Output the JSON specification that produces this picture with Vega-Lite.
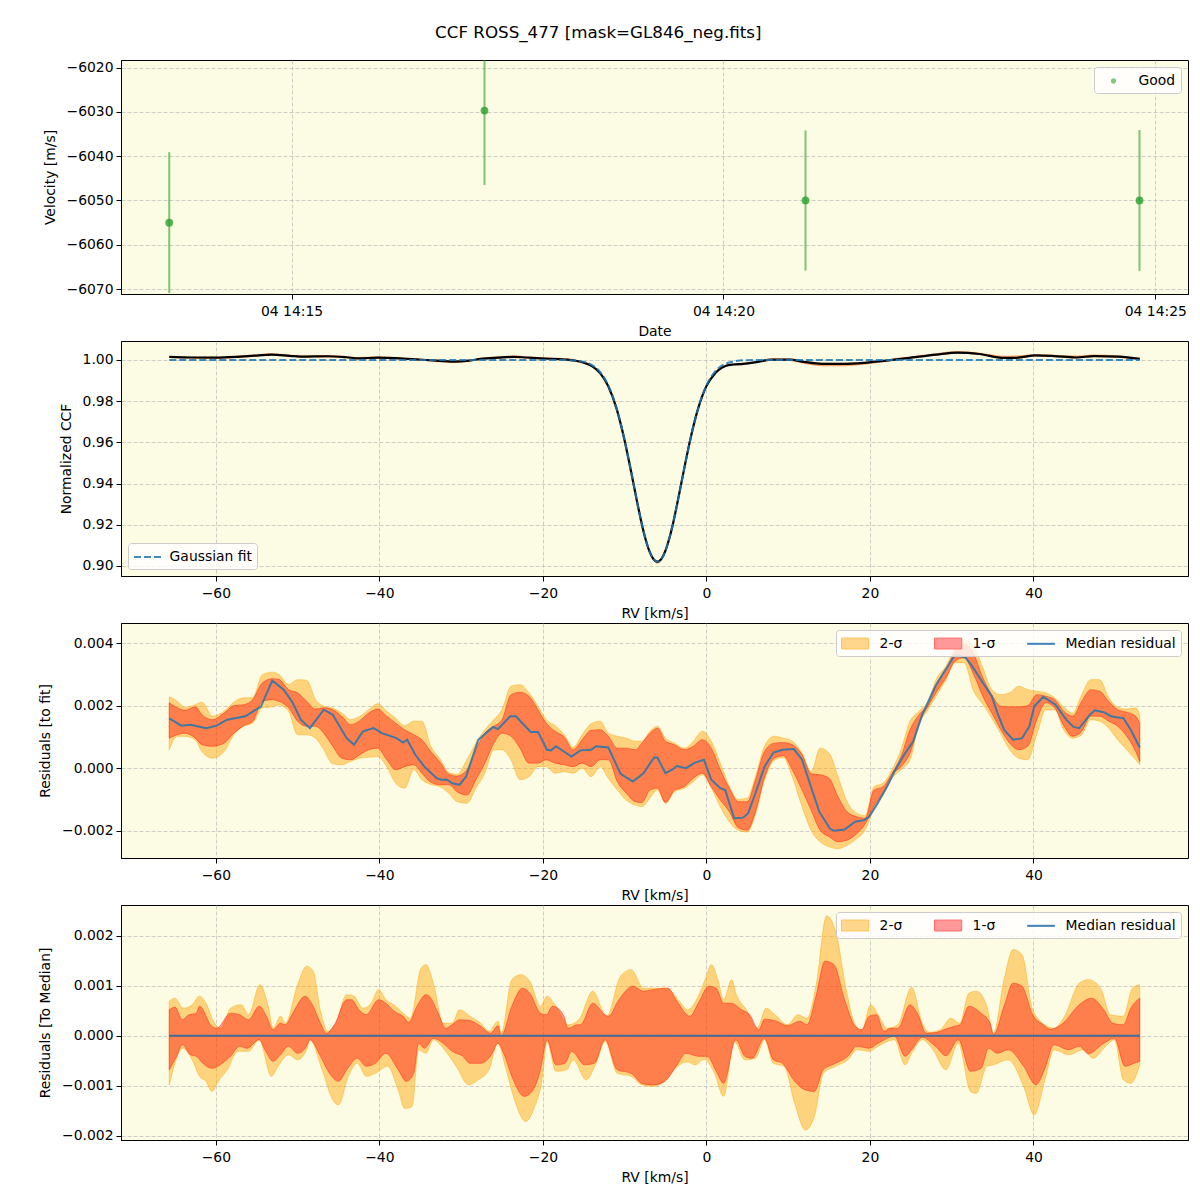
{
  "$schema": "https://vega.github.io/schema/vega-lite/v6.json",
  "padding": {"left": 38, "top": 24, "right": 5, "bottom": 5},
  "title": {"text": "CCF ROSS_477 [mask=GL846_neg.fits]", "fontSize": 16.7, "fontWeight": "normal", "font": "DejaVu Sans", "color": "#000000", "offset": 18, "dx": -15, "anchor": "middle"},
  "bounds": "flush",
  "spacing": 47,
  "resolve": {
    "scale": {"color": "independent", "fill": "independent", "stroke": "independent", "shape": "independent", "x": "independent", "y": "independent"},
    "legend": {"color": "independent", "fill": "independent", "stroke": "independent", "shape": "independent"}
  },
  "datasets": {
    "leg": [{"k": "2-σ"}, {"k": "1-σ"}, {"k": "Median residual"}],
    "rv": [
      {"t": "2021-03-04T14:13:35Z", "v": -6055.0, "lo": -6070.9, "hi": -6039.1},
      {"t": "2021-03-04T14:17:14Z", "v": -6029.7, "lo": -6046.5, "hi": -6012.9},
      {"t": "2021-03-04T14:20:57Z", "v": -6050.0, "lo": -6065.8, "hi": -6034.2},
      {"t": "2021-03-04T14:24:49Z", "v": -6050.0, "lo": -6065.9, "hi": -6034.1}
    ],
    "ccf": [
      {"x": -65.7, "ccf": 1.0015, "gauss": 1.0, "lo": 1.0010, "hi": 1.0019},
      {"x": -63.0, "ccf": 1.0012, "gauss": 1.0, "lo": 1.0007, "hi": 1.0016},
      {"x": -60.0, "ccf": 1.0011, "gauss": 1.0, "lo": 1.0006, "hi": 1.0015},
      {"x": -57.0, "ccf": 1.0016, "gauss": 1.0, "lo": 1.0011, "hi": 1.0022},
      {"x": -55.0, "ccf": 1.0021, "gauss": 1.0, "lo": 1.0016, "hi": 1.0028},
      {"x": -53.2, "ccf": 1.0026, "gauss": 1.0, "lo": 1.0020, "hi": 1.0033},
      {"x": -51.0, "ccf": 1.0020, "gauss": 1.0, "lo": 1.0015, "hi": 1.0026},
      {"x": -49.6, "ccf": 1.0016, "gauss": 1.0, "lo": 1.0011, "hi": 1.0021},
      {"x": -46.3, "ccf": 1.0018, "gauss": 1.0, "lo": 1.0012, "hi": 1.0024},
      {"x": -44.0, "ccf": 1.0013, "gauss": 1.0, "lo": 1.0008, "hi": 1.0018},
      {"x": -42.6, "ccf": 1.0008, "gauss": 1.0, "lo": 1.0002, "hi": 1.0014},
      {"x": -40.2, "ccf": 1.0011, "gauss": 1.0, "lo": 1.0006, "hi": 1.0017},
      {"x": -38.0, "ccf": 1.0009, "gauss": 1.0, "lo": 1.0004, "hi": 1.0014},
      {"x": -36.5, "ccf": 1.0005, "gauss": 1.0, "lo": 1.0000, "hi": 1.0010},
      {"x": -33.5, "ccf": 0.9998, "gauss": 1.0, "lo": 0.9992, "hi": 1.0003},
      {"x": -30.9, "ccf": 0.9992, "gauss": 1.0, "lo": 0.9985, "hi": 0.9997},
      {"x": -29.0, "ccf": 0.9997, "gauss": 1.0, "lo": 0.9991, "hi": 1.0002},
      {"x": -27.6, "ccf": 1.0005, "gauss": 1.0, "lo": 1.0000, "hi": 1.0010},
      {"x": -25.5, "ccf": 1.0011, "gauss": 1.0, "lo": 1.0006, "hi": 1.0017},
      {"x": -23.5, "ccf": 1.0015, "gauss": 1.0, "lo": 1.0010, "hi": 1.0021},
      {"x": -22.0, "ccf": 1.0012, "gauss": 1.0, "lo": 1.0007, "hi": 1.0017},
      {"x": -20.3, "ccf": 1.0008, "gauss": 1.0, "lo": 1.0003, "hi": 1.0013},
      {"x": -18.0, "ccf": 1.0004, "gauss": 1.0, "lo": 0.9999, "hi": 1.0009},
      {"x": -17.0, "ccf": 1.0002, "gauss": 0.99991, "lo": 0.9997, "hi": 1.0007},
      {"x": -16.0, "ccf": 0.9996, "gauss": 0.99969, "lo": 0.9991, "hi": 1.0001},
      {"x": -15.0, "ccf": 0.9987, "gauss": 0.99907, "lo": 0.9982, "hi": 0.9992},
      {"x": -14.0, "ccf": 0.9970, "gauss": 0.99752, "lo": 0.9965, "hi": 0.9975},
      {"x": -13.0, "ccf": 0.9936, "gauss": 0.99414, "lo": 0.9931, "hi": 0.9941},
      {"x": -12.0, "ccf": 0.9872, "gauss": 0.98762, "lo": 0.9867, "hi": 0.9877},
      {"x": -11.0, "ccf": 0.9765, "gauss": 0.97671, "lo": 0.9760, "hi": 0.9770},
      {"x": -10.0, "ccf": 0.9608, "gauss": 0.96093, "lo": 0.9603, "hi": 0.9613},
      {"x": -9.5, "ccf": 0.9514, "gauss": 0.95153, "lo": 0.9508, "hi": 0.9520},
      {"x": -9.0, "ccf": 0.9415, "gauss": 0.94157, "lo": 0.9409, "hi": 0.9421},
      {"x": -8.5, "ccf": 0.9315, "gauss": 0.93157, "lo": 0.9309, "hi": 0.9321},
      {"x": -8.0, "ccf": 0.9221, "gauss": 0.92213, "lo": 0.9215, "hi": 0.9227},
      {"x": -7.5, "ccf": 0.9138, "gauss": 0.91389, "lo": 0.9132, "hi": 0.9144},
      {"x": -7.0, "ccf": 0.9074, "gauss": 0.90747, "lo": 0.9067, "hi": 0.9080},
      {"x": -6.5, "ccf": 0.9034, "gauss": 0.90340, "lo": 0.9026, "hi": 0.9040},
      {"x": -6.0, "ccf": 0.9020, "gauss": 0.90200, "lo": 0.9011, "hi": 0.9026},
      {"x": -5.5, "ccf": 0.9034, "gauss": 0.90340, "lo": 0.9026, "hi": 0.9040},
      {"x": -5.0, "ccf": 0.9075, "gauss": 0.90747, "lo": 0.9068, "hi": 0.9081},
      {"x": -4.5, "ccf": 0.9139, "gauss": 0.91389, "lo": 0.9133, "hi": 0.9145},
      {"x": -4.0, "ccf": 0.9221, "gauss": 0.92213, "lo": 0.9215, "hi": 0.9227},
      {"x": -3.5, "ccf": 0.9316, "gauss": 0.93157, "lo": 0.9310, "hi": 0.9322},
      {"x": -3.0, "ccf": 0.9416, "gauss": 0.94157, "lo": 0.9410, "hi": 0.9422},
      {"x": -2.5, "ccf": 0.9515, "gauss": 0.95153, "lo": 0.9509, "hi": 0.9521},
      {"x": -2.0, "ccf": 0.9609, "gauss": 0.96093, "lo": 0.9604, "hi": 0.9614},
      {"x": -1.0, "ccf": 0.9766, "gauss": 0.97671, "lo": 0.9761, "hi": 0.9771},
      {"x": 0.0, "ccf": 0.9873, "gauss": 0.98762, "lo": 0.9868, "hi": 0.9878},
      {"x": 1.0, "ccf": 0.9932, "gauss": 0.99414, "lo": 0.9927, "hi": 0.9937},
      {"x": 1.5, "ccf": 0.9952, "gauss": 0.99614, "lo": 0.9947, "hi": 0.9957},
      {"x": 2.4, "ccf": 0.9972, "gauss": 0.99830, "lo": 0.9967, "hi": 0.9977},
      {"x": 3.3, "ccf": 0.9978, "gauss": 0.99932, "lo": 0.9973, "hi": 0.9983},
      {"x": 4.5, "ccf": 0.9981, "gauss": 0.99983, "lo": 0.9976, "hi": 0.9986},
      {"x": 6.3, "ccf": 0.9991, "gauss": 1.0, "lo": 0.9986, "hi": 0.9996},
      {"x": 8.0, "ccf": 1.0002, "gauss": 1.0, "lo": 0.9997, "hi": 1.0007},
      {"x": 10.2, "ccf": 1.0002, "gauss": 1.0, "lo": 0.9995, "hi": 1.0007},
      {"x": 11.9, "ccf": 0.9991, "gauss": 1.0, "lo": 0.9982, "hi": 0.9996},
      {"x": 14.1, "ccf": 0.9981, "gauss": 1.0, "lo": 0.9970, "hi": 0.9986},
      {"x": 16.7, "ccf": 0.9981, "gauss": 1.0, "lo": 0.9970, "hi": 0.9986},
      {"x": 19.3, "ccf": 0.9986, "gauss": 1.0, "lo": 0.9977, "hi": 0.9991},
      {"x": 22.0, "ccf": 0.9997, "gauss": 1.0, "lo": 0.9991, "hi": 1.0002},
      {"x": 24.6, "ccf": 1.0009, "gauss": 1.0, "lo": 1.0004, "hi": 1.0015},
      {"x": 28.1, "ccf": 1.0026, "gauss": 1.0, "lo": 1.0021, "hi": 1.0032},
      {"x": 30.7, "ccf": 1.0036, "gauss": 1.0, "lo": 1.0030, "hi": 1.0043},
      {"x": 33.4, "ccf": 1.0029, "gauss": 1.0, "lo": 1.0024, "hi": 1.0035},
      {"x": 36.4, "ccf": 1.0010, "gauss": 1.0, "lo": 1.0005, "hi": 1.0020},
      {"x": 37.7, "ccf": 1.0010, "gauss": 1.0, "lo": 1.0005, "hi": 1.0021},
      {"x": 40.3, "ccf": 1.0022, "gauss": 1.0, "lo": 1.0017, "hi": 1.0028},
      {"x": 42.5, "ccf": 1.0019, "gauss": 1.0, "lo": 1.0014, "hi": 1.0025},
      {"x": 45.2, "ccf": 1.0012, "gauss": 1.0, "lo": 1.0007, "hi": 1.0021},
      {"x": 47.4, "ccf": 1.0019, "gauss": 1.0, "lo": 1.0014, "hi": 1.0027},
      {"x": 50.4, "ccf": 1.0016, "gauss": 1.0, "lo": 1.0011, "hi": 1.0022},
      {"x": 53.0, "ccf": 1.0005, "gauss": 1.0, "lo": 1.0000, "hi": 1.0011}
    ],
    "p3band": [
      {"x": -65.7, "lo2": 0.00059, "lo1": 0.00096, "hi1": 0.00209, "hi2": 0.00228},
      {"x": -64.7, "lo2": 0.00102, "lo1": 0.00107, "hi1": 0.00193, "hi2": 0.00214},
      {"x": -63.8, "lo2": 0.00102, "lo1": 0.00112, "hi1": 0.00185, "hi2": 0.00195},
      {"x": -62.5, "lo2": 0.00090, "lo1": 0.00096, "hi1": 0.00196, "hi2": 0.00203},
      {"x": -61.7, "lo2": 0.00053, "lo1": 0.00075, "hi1": 0.00171, "hi2": 0.00211},
      {"x": -60.4, "lo2": 0.00032, "lo1": 0.00070, "hi1": 0.00155, "hi2": 0.00166},
      {"x": -59.0, "lo2": 0.00053, "lo1": 0.00080, "hi1": 0.00176, "hi2": 0.00182},
      {"x": -57.8, "lo2": 0.00107, "lo1": 0.00112, "hi1": 0.00200, "hi2": 0.00211},
      {"x": -56.6, "lo2": 0.00134, "lo1": 0.00136, "hi1": 0.00203, "hi2": 0.00225},
      {"x": -55.5, "lo2": 0.00144, "lo1": 0.00150, "hi1": 0.00219, "hi2": 0.00225},
      {"x": -54.3, "lo2": 0.00193, "lo1": 0.00214, "hi1": 0.00273, "hi2": 0.00299},
      {"x": -53.1, "lo2": 0.00196, "lo1": 0.00219, "hi1": 0.00286, "hi2": 0.00307},
      {"x": -52.3, "lo2": 0.00202, "lo1": 0.00214, "hi1": 0.00284, "hi2": 0.00300},
      {"x": -51.1, "lo2": 0.00182, "lo1": 0.00193, "hi1": 0.00251, "hi2": 0.00267},
      {"x": -50.0, "lo2": 0.00107, "lo1": 0.00150, "hi1": 0.00241, "hi2": 0.00283},
      {"x": -48.9, "lo2": 0.00107, "lo1": 0.00134, "hi1": 0.00214, "hi2": 0.00281},
      {"x": -47.8, "lo2": 0.00096, "lo1": 0.00134, "hi1": 0.00189, "hi2": 0.00219},
      {"x": -46.8, "lo2": 0.00059, "lo1": 0.00112, "hi1": 0.00193, "hi2": 0.00198},
      {"x": -45.7, "lo2": 0.00014, "lo1": 0.00070, "hi1": 0.00187, "hi2": 0.00192},
      {"x": -44.6, "lo2": 0.00011, "lo1": 0.00032, "hi1": 0.00166, "hi2": 0.00176},
      {"x": -43.5, "lo2": 0.00022, "lo1": 0.00027, "hi1": 0.00139, "hi2": 0.00155},
      {"x": -42.4, "lo2": 0.00032, "lo1": 0.00043, "hi1": 0.00152, "hi2": 0.00166},
      {"x": -41.3, "lo2": 0.00035, "lo1": 0.00059, "hi1": 0.00176, "hi2": 0.00187},
      {"x": -40.2, "lo2": 0.00037, "lo1": 0.00064, "hi1": 0.00189, "hi2": 0.00206},
      {"x": -39.1, "lo2": 0.00005, "lo1": 0.00027, "hi1": 0.00166, "hi2": 0.00182},
      {"x": -38.0, "lo2": -0.00048, "lo1": -0.00005, "hi1": 0.00144, "hi2": 0.00160},
      {"x": -36.9, "lo2": -0.00064, "lo1": 0.00005, "hi1": 0.00123, "hi2": 0.00136},
      {"x": -35.8, "lo2": -0.00005, "lo1": 0.00011, "hi1": 0.00107, "hi2": 0.00150},
      {"x": -34.8, "lo2": -0.00037, "lo1": -0.00016, "hi1": 0.00091, "hi2": 0.00150},
      {"x": -33.7, "lo2": -0.00052, "lo1": -0.00045, "hi1": 0.00053, "hi2": 0.00070},
      {"x": -32.6, "lo2": -0.00059, "lo1": -0.00053, "hi1": 0.00020, "hi2": 0.00030},
      {"x": -31.5, "lo2": -0.00080, "lo1": -0.00053, "hi1": -0.00019, "hi2": -0.00014},
      {"x": -30.5, "lo2": -0.00107, "lo1": -0.00075, "hi1": -0.00025, "hi2": -0.00020},
      {"x": -29.3, "lo2": -0.00112, "lo1": -0.00086, "hi1": -0.00005, "hi2": 0.00027},
      {"x": -28.2, "lo2": -0.00064, "lo1": -0.00037, "hi1": 0.00059, "hi2": 0.00080},
      {"x": -27.1, "lo2": -0.00016, "lo1": 0.00016, "hi1": 0.00112, "hi2": 0.00123},
      {"x": -26.0, "lo2": 0.00059, "lo1": 0.00080, "hi1": 0.00134, "hi2": 0.00155},
      {"x": -25.0, "lo2": 0.00059, "lo1": 0.00112, "hi1": 0.00155, "hi2": 0.00187},
      {"x": -23.9, "lo2": 0.00027, "lo1": 0.00102, "hi1": 0.00235, "hi2": 0.00262},
      {"x": -22.8, "lo2": -0.00037, "lo1": 0.00064, "hi1": 0.00243, "hi2": 0.00267},
      {"x": -21.7, "lo2": -0.00027, "lo1": 0.00016, "hi1": 0.00230, "hi2": 0.00241},
      {"x": -20.6, "lo2": 0.00005, "lo1": 0.00016, "hi1": 0.00187, "hi2": 0.00198},
      {"x": -19.6, "lo2": 0.00005, "lo1": 0.00027, "hi1": 0.00144, "hi2": 0.00155},
      {"x": -18.5, "lo2": -0.00016, "lo1": 0.00016, "hi1": 0.00118, "hi2": 0.00136},
      {"x": -17.4, "lo2": -0.00011, "lo1": 0.00011, "hi1": 0.00100, "hi2": 0.00107},
      {"x": -16.3, "lo2": -0.00016, "lo1": 0.00005, "hi1": 0.00059, "hi2": 0.00067},
      {"x": -15.2, "lo2": 0.00000, "lo1": 0.00016, "hi1": 0.00091, "hi2": 0.00107},
      {"x": -14.1, "lo2": -0.00027, "lo1": 0.00005, "hi1": 0.00121, "hi2": 0.00142},
      {"x": -13.0, "lo2": 0.00005, "lo1": 0.00027, "hi1": 0.00123, "hi2": 0.00150},
      {"x": -12.0, "lo2": -0.00032, "lo1": 0.00027, "hi1": 0.00102, "hi2": 0.00112},
      {"x": -10.9, "lo2": -0.00070, "lo1": -0.00043, "hi1": 0.00064, "hi2": 0.00102},
      {"x": -9.8, "lo2": -0.00102, "lo1": -0.00080, "hi1": 0.00064, "hi2": 0.00096},
      {"x": -8.7, "lo2": -0.00118, "lo1": -0.00107, "hi1": 0.00059, "hi2": 0.00086},
      {"x": -7.9, "lo2": -0.00123, "lo1": -0.00110, "hi1": 0.00080, "hi2": 0.00086},
      {"x": -6.9, "lo2": -0.00096, "lo1": -0.00070, "hi1": 0.00112, "hi2": 0.00118},
      {"x": -6.0, "lo2": -0.00070, "lo1": -0.00064, "hi1": 0.00128, "hi2": 0.00134},
      {"x": -5.0, "lo2": -0.00112, "lo1": -0.00110, "hi1": 0.00086, "hi2": 0.00095},
      {"x": -3.9, "lo2": -0.00075, "lo1": -0.00070, "hi1": 0.00075, "hi2": 0.00080},
      {"x": -2.7, "lo2": -0.00064, "lo1": -0.00059, "hi1": 0.00059, "hi2": 0.00064},
      {"x": -1.6, "lo2": -0.00043, "lo1": -0.00032, "hi1": 0.00070, "hi2": 0.00086},
      {"x": -0.5, "lo2": -0.00021, "lo1": -0.00016, "hi1": 0.00091, "hi2": 0.00118},
      {"x": 0.6, "lo2": -0.00064, "lo1": -0.00059, "hi1": 0.00064, "hi2": 0.00086},
      {"x": 1.7, "lo2": -0.00123, "lo1": -0.00102, "hi1": -0.00005, "hi2": 0.00016},
      {"x": 2.8, "lo2": -0.00171, "lo1": -0.00139, "hi1": -0.00064, "hi2": -0.00058},
      {"x": 3.9, "lo2": -0.00198, "lo1": -0.00190, "hi1": -0.00107, "hi2": -0.00100},
      {"x": 5.0, "lo2": -0.00204, "lo1": -0.00198, "hi1": -0.00107, "hi2": -0.00096},
      {"x": 6.0, "lo2": -0.00147, "lo1": -0.00139, "hi1": -0.00037, "hi2": -0.00027},
      {"x": 7.1, "lo2": -0.00038, "lo1": -0.00030, "hi1": 0.00053, "hi2": 0.00070},
      {"x": 8.3, "lo2": 0.00025, "lo1": 0.00032, "hi1": 0.00080, "hi2": 0.00102},
      {"x": 9.4, "lo2": 0.00034, "lo1": 0.00040, "hi1": 0.00082, "hi2": 0.00096},
      {"x": 10.5, "lo2": -0.00027, "lo1": -0.00005, "hi1": 0.00075, "hi2": 0.00086},
      {"x": 11.7, "lo2": -0.00123, "lo1": -0.00070, "hi1": 0.00043, "hi2": 0.00048},
      {"x": 12.8, "lo2": -0.00198, "lo1": -0.00134, "hi1": -0.00018, "hi2": -0.00011},
      {"x": 13.9, "lo2": -0.00235, "lo1": -0.00198, "hi1": -0.00021, "hi2": 0.00064},
      {"x": 15.0, "lo2": -0.00251, "lo1": -0.00219, "hi1": -0.00032, "hi2": 0.00048},
      {"x": 16.1, "lo2": -0.00257, "lo1": -0.00235, "hi1": -0.00091, "hi2": -0.00027},
      {"x": 17.2, "lo2": -0.00246, "lo1": -0.00230, "hi1": -0.00139, "hi2": -0.00107},
      {"x": 18.4, "lo2": -0.00225, "lo1": -0.00209, "hi1": -0.00155, "hi2": -0.00144},
      {"x": 19.4, "lo2": -0.00198, "lo1": -0.00179, "hi1": -0.00160, "hi2": -0.00152},
      {"x": 20.5, "lo2": -0.00128, "lo1": -0.00120, "hi1": -0.00070, "hi2": -0.00059},
      {"x": 21.6, "lo2": -0.00086, "lo1": -0.00080, "hi1": -0.00059, "hi2": -0.00048},
      {"x": 22.7, "lo2": -0.00032, "lo1": -0.00021, "hi1": -0.00016, "hi2": -0.00005},
      {"x": 23.8, "lo2": -0.00005, "lo1": 0.00005, "hi1": 0.00037, "hi2": 0.00059},
      {"x": 24.9, "lo2": 0.00027, "lo1": 0.00048, "hi1": 0.00123, "hi2": 0.00150},
      {"x": 26.0, "lo2": 0.00139, "lo1": 0.00144, "hi1": 0.00171, "hi2": 0.00182},
      {"x": 27.1, "lo2": 0.00187, "lo1": 0.00198, "hi1": 0.00203, "hi2": 0.00214},
      {"x": 28.2, "lo2": 0.00235, "lo1": 0.00246, "hi1": 0.00273, "hi2": 0.00289},
      {"x": 29.3, "lo2": 0.00283, "lo1": 0.00289, "hi1": 0.00316, "hi2": 0.00326},
      {"x": 30.4, "lo2": 0.00337, "lo1": 0.00342, "hi1": 0.00374, "hi2": 0.00385},
      {"x": 31.5, "lo2": 0.00337, "lo1": 0.00353, "hi1": 0.00396, "hi2": 0.00410},
      {"x": 32.7, "lo2": 0.00246, "lo1": 0.00299, "hi1": 0.00364, "hi2": 0.00390},
      {"x": 33.8, "lo2": 0.00205, "lo1": 0.00230, "hi1": 0.00289, "hi2": 0.00321},
      {"x": 34.9, "lo2": 0.00160, "lo1": 0.00176, "hi1": 0.00235, "hi2": 0.00251},
      {"x": 36.0, "lo2": 0.00110, "lo1": 0.00123, "hi1": 0.00198, "hi2": 0.00235},
      {"x": 37.1, "lo2": 0.00059, "lo1": 0.00080, "hi1": 0.00196, "hi2": 0.00241},
      {"x": 38.2, "lo2": 0.00032, "lo1": 0.00059, "hi1": 0.00196, "hi2": 0.00262},
      {"x": 39.3, "lo2": 0.00027, "lo1": 0.00070, "hi1": 0.00200, "hi2": 0.00251},
      {"x": 40.4, "lo2": 0.00107, "lo1": 0.00155, "hi1": 0.00235, "hi2": 0.00246},
      {"x": 41.5, "lo2": 0.00187, "lo1": 0.00209, "hi1": 0.00230, "hi2": 0.00241},
      {"x": 42.6, "lo2": 0.00187, "lo1": 0.00193, "hi1": 0.00219, "hi2": 0.00225},
      {"x": 43.7, "lo2": 0.00123, "lo1": 0.00136, "hi1": 0.00182, "hi2": 0.00196},
      {"x": 44.8, "lo2": 0.00096, "lo1": 0.00102, "hi1": 0.00166, "hi2": 0.00176},
      {"x": 45.9, "lo2": 0.00107, "lo1": 0.00118, "hi1": 0.00214, "hi2": 0.00235},
      {"x": 47.0, "lo2": 0.00155, "lo1": 0.00166, "hi1": 0.00251, "hi2": 0.00283},
      {"x": 48.1, "lo2": 0.00150, "lo1": 0.00166, "hi1": 0.00246, "hi2": 0.00283},
      {"x": 49.2, "lo2": 0.00128, "lo1": 0.00150, "hi1": 0.00214, "hi2": 0.00225},
      {"x": 50.3, "lo2": 0.00091, "lo1": 0.00134, "hi1": 0.00187, "hi2": 0.00195},
      {"x": 51.4, "lo2": 0.00059, "lo1": 0.00102, "hi1": 0.00179, "hi2": 0.00189},
      {"x": 52.5, "lo2": 0.00027, "lo1": 0.00053, "hi1": 0.00166, "hi2": 0.00193},
      {"x": 53.0, "lo2": 0.00011, "lo1": 0.00021, "hi1": 0.00144, "hi2": 0.00171}
    ],
    "p3med": [
      {"x": -65.7, "v": 0.00159}, {"x": -64.2, "v": 0.00136}, {"x": -63.1, "v": 0.00139}, {"x": -61.2, "v": 0.00128},
      {"x": -59.9, "v": 0.00136}, {"x": -58.6, "v": 0.00155}, {"x": -56.4, "v": 0.00166}, {"x": -55.1, "v": 0.00187},
      {"x": -54.5, "v": 0.00196}, {"x": -53.1, "v": 0.00280}, {"x": -51.7, "v": 0.00251}, {"x": -50.6, "v": 0.00209},
      {"x": -49.6, "v": 0.00155}, {"x": -48.5, "v": 0.00128}, {"x": -46.8, "v": 0.00187}, {"x": -45.7, "v": 0.00171},
      {"x": -44.0, "v": 0.00096}, {"x": -43.1, "v": 0.00075}, {"x": -42.0, "v": 0.00118}, {"x": -40.7, "v": 0.00128},
      {"x": -39.7, "v": 0.00112}, {"x": -37.9, "v": 0.00096}, {"x": -37.1, "v": 0.00082}, {"x": -36.6, "v": 0.00091},
      {"x": -35.6, "v": 0.00043}, {"x": -34.5, "v": 0.00005}, {"x": -33.0, "v": -0.00032}, {"x": -32.4, "v": -0.00037},
      {"x": -31.7, "v": -0.00037}, {"x": -31.1, "v": -0.00048}, {"x": -30.2, "v": -0.00053}, {"x": -29.4, "v": -0.00027},
      {"x": -27.9, "v": 0.00091}, {"x": -26.1, "v": 0.00132}, {"x": -25.5, "v": 0.00125}, {"x": -24.0, "v": 0.00166},
      {"x": -23.3, "v": 0.00166}, {"x": -21.5, "v": 0.00116}, {"x": -20.6, "v": 0.00116}, {"x": -19.5, "v": 0.00059},
      {"x": -19.0, "v": 0.00057}, {"x": -18.4, "v": 0.00070}, {"x": -17.3, "v": 0.00051}, {"x": -16.5, "v": 0.00037},
      {"x": -15.4, "v": 0.00057}, {"x": -14.1, "v": 0.00059}, {"x": -13.5, "v": 0.00070}, {"x": -12.0, "v": 0.00066},
      {"x": -10.5, "v": -0.00018}, {"x": -9.0, "v": -0.00043}, {"x": -7.7, "v": -0.00016}, {"x": -6.4, "v": 0.00034},
      {"x": -6.0, "v": 0.00034}, {"x": -5.0, "v": -0.00016}, {"x": -4.2, "v": -0.00005}, {"x": -3.6, "v": 0.00007},
      {"x": -2.5, "v": 0.00000}, {"x": -1.4, "v": 0.00018}, {"x": -0.3, "v": 0.00027}, {"x": 0.6, "v": -0.00037},
      {"x": 1.7, "v": -0.00064}, {"x": 2.3, "v": -0.00070}, {"x": 3.4, "v": -0.00160}, {"x": 4.5, "v": -0.00158},
      {"x": 5.1, "v": -0.00144}, {"x": 6.0, "v": -0.00080}, {"x": 7.1, "v": 0.00005}, {"x": 8.2, "v": 0.00050},
      {"x": 9.3, "v": 0.00059}, {"x": 10.7, "v": 0.00061}, {"x": 11.7, "v": 0.00027}, {"x": 12.5, "v": -0.00037},
      {"x": 13.8, "v": -0.00139}, {"x": 15.1, "v": -0.00193}, {"x": 15.6, "v": -0.00200}, {"x": 16.9, "v": -0.00196},
      {"x": 18.2, "v": -0.00171}, {"x": 19.3, "v": -0.00166}, {"x": 19.9, "v": -0.00155}, {"x": 20.8, "v": -0.00118},
      {"x": 22.1, "v": -0.00059}, {"x": 23.2, "v": 0.00000}, {"x": 24.3, "v": 0.00048}, {"x": 25.3, "v": 0.00086},
      {"x": 26.4, "v": 0.00171}, {"x": 28.0, "v": 0.00262}, {"x": 29.0, "v": 0.00305}, {"x": 30.3, "v": 0.00358},
      {"x": 30.8, "v": 0.00360}, {"x": 31.7, "v": 0.00353}, {"x": 32.5, "v": 0.00326}, {"x": 33.8, "v": 0.00273},
      {"x": 34.9, "v": 0.00230}, {"x": 35.6, "v": 0.00176}, {"x": 36.4, "v": 0.00123}, {"x": 37.5, "v": 0.00091},
      {"x": 38.6, "v": 0.00096}, {"x": 39.5, "v": 0.00134}, {"x": 40.1, "v": 0.00198}, {"x": 41.2, "v": 0.00228},
      {"x": 42.7, "v": 0.00203}, {"x": 44.0, "v": 0.00155}, {"x": 44.9, "v": 0.00132}, {"x": 45.6, "v": 0.00128},
      {"x": 46.9, "v": 0.00171}, {"x": 47.5, "v": 0.00185}, {"x": 48.6, "v": 0.00179}, {"x": 49.5, "v": 0.00166},
      {"x": 50.1, "v": 0.00163}, {"x": 51.0, "v": 0.00160}, {"x": 51.9, "v": 0.00123}, {"x": 53.0, "v": 0.00066}
    ],
    "p4hi2": [
      {"x": -65.7, "v": 0.00069}, {"x": -65.0, "v": 0.00075}, {"x": -64.0, "v": 0.00055}, {"x": -62.9, "v": 0.00062},
      {"x": -62.0, "v": 0.00079}, {"x": -61.2, "v": 0.00065}, {"x": -60.3, "v": 0.00029}, {"x": -59.4, "v": 0.00015},
      {"x": -58.2, "v": 0.00055}, {"x": -56.9, "v": 0.00062}, {"x": -56.0, "v": 0.00042}, {"x": -54.6, "v": 0.00102},
      {"x": -53.6, "v": 0.00059}, {"x": -53.0, "v": 0.00015}, {"x": -52.1, "v": 0.00039}, {"x": -51.5, "v": 0.00025},
      {"x": -50.0, "v": 0.00102}, {"x": -48.9, "v": 0.00139}, {"x": -48.1, "v": 0.00129}, {"x": -47.2, "v": 0.00049},
      {"x": -46.3, "v": 0.00009}, {"x": -45.3, "v": 0.00025}, {"x": -44.0, "v": 0.00082}, {"x": -43.1, "v": 0.00079},
      {"x": -42.0, "v": 0.00055}, {"x": -41.0, "v": 0.00065}, {"x": -40.1, "v": 0.00092}, {"x": -39.2, "v": 0.00072},
      {"x": -38.0, "v": 0.00059}, {"x": -37.1, "v": 0.00045}, {"x": -36.2, "v": 0.00035}, {"x": -34.9, "v": 0.00135},
      {"x": -34.3, "v": 0.00142}, {"x": -33.4, "v": 0.00105}, {"x": -32.2, "v": 0.00025}, {"x": -31.1, "v": 0.00025},
      {"x": -30.2, "v": 0.00052}, {"x": -28.9, "v": 0.00039}, {"x": -27.6, "v": 0.00025}, {"x": -26.6, "v": 0.00009},
      {"x": -25.5, "v": 0.00029}, {"x": -25.1, "v": 0.00005}, {"x": -23.8, "v": 0.00112}, {"x": -22.7, "v": 0.00122},
      {"x": -21.6, "v": 0.00109}, {"x": -20.3, "v": 0.00059}, {"x": -19.5, "v": 0.00079}, {"x": -18.4, "v": 0.00059},
      {"x": -16.9, "v": 0.00022}, {"x": -15.6, "v": 0.00032}, {"x": -13.9, "v": 0.00089}, {"x": -12.2, "v": 0.00039},
      {"x": -10.5, "v": 0.00119}, {"x": -9.2, "v": 0.00132}, {"x": -7.7, "v": 0.00095}, {"x": -6.6, "v": 0.00095},
      {"x": -4.9, "v": 0.00095}, {"x": -3.3, "v": 0.00069}, {"x": -2.3, "v": 0.00052}, {"x": -1.0, "v": 0.00079},
      {"x": -0.1, "v": 0.00115}, {"x": 0.6, "v": 0.00142}, {"x": 1.4, "v": 0.00112}, {"x": 2.1, "v": 0.00072},
      {"x": 3.1, "v": 0.00112}, {"x": 3.6, "v": 0.00085}, {"x": 4.9, "v": 0.00052}, {"x": 6.2, "v": 0.00015},
      {"x": 7.3, "v": 0.00055}, {"x": 8.4, "v": 0.00042}, {"x": 9.9, "v": 0.00022}, {"x": 11.2, "v": 0.00042},
      {"x": 12.3, "v": 0.00035}, {"x": 13.4, "v": 0.00099}, {"x": 14.7, "v": 0.00239}, {"x": 15.8, "v": 0.00209},
      {"x": 17.1, "v": 0.00092}, {"x": 18.2, "v": 0.00022}, {"x": 19.0, "v": 0.00012}, {"x": 20.1, "v": 0.00062},
      {"x": 21.0, "v": 0.00042}, {"x": 22.1, "v": 0.00015}, {"x": 23.4, "v": 0.00022}, {"x": 25.1, "v": 0.00097},
      {"x": 26.4, "v": 0.00025}, {"x": 27.3, "v": 0.00007}, {"x": 28.6, "v": 0.00012}, {"x": 29.9, "v": 0.00035},
      {"x": 31.0, "v": 0.00025}, {"x": 32.1, "v": 0.00085}, {"x": 33.0, "v": 0.00089}, {"x": 34.3, "v": 0.00059},
      {"x": 35.1, "v": 0.00005}, {"x": 36.4, "v": 0.00112}, {"x": 37.5, "v": 0.00172}, {"x": 38.6, "v": 0.00162},
      {"x": 39.9, "v": 0.00052}, {"x": 41.7, "v": 0.00019}, {"x": 42.5, "v": 0.00015}, {"x": 43.8, "v": 0.00039},
      {"x": 45.6, "v": 0.00105}, {"x": 46.7, "v": 0.00112}, {"x": 48.2, "v": 0.00095}, {"x": 49.4, "v": 0.00042},
      {"x": 51.0, "v": 0.00039}, {"x": 52.1, "v": 0.00095}, {"x": 53.0, "v": 0.00102}
    ],
    "p4lo2": [
      {"x": -65.7, "v": -0.00098}, {"x": -65.0, "v": -0.00055}, {"x": -64.1, "v": -0.00025}, {"x": -62.9, "v": -0.00048},
      {"x": -62.0, "v": -0.00081}, {"x": -61.2, "v": -0.00091}, {"x": -60.5, "v": -0.00111}, {"x": -59.7, "v": -0.00091},
      {"x": -58.6, "v": -0.00068}, {"x": -57.3, "v": -0.00031}, {"x": -56.0, "v": -0.00031}, {"x": -54.7, "v": -0.00008},
      {"x": -53.2, "v": -0.00081}, {"x": -52.4, "v": -0.00061}, {"x": -51.1, "v": -0.00038}, {"x": -50.0, "v": -0.00048},
      {"x": -48.9, "v": -0.00028}, {"x": -48.5, "v": -0.00008}, {"x": -47.0, "v": -0.00068}, {"x": -45.7, "v": -0.00128},
      {"x": -45.0, "v": -0.00138}, {"x": -43.8, "v": -0.00081}, {"x": -42.7, "v": -0.00055}, {"x": -41.6, "v": -0.00081},
      {"x": -40.5, "v": -0.00075}, {"x": -39.0, "v": -0.00061}, {"x": -37.7, "v": -0.00108}, {"x": -36.9, "v": -0.00145},
      {"x": -36.0, "v": -0.00141}, {"x": -35.2, "v": -0.00028}, {"x": -34.3, "v": -0.00035}, {"x": -33.4, "v": -0.00008},
      {"x": -31.9, "v": -0.00031}, {"x": -30.6, "v": -0.00061}, {"x": -29.1, "v": -0.00098}, {"x": -27.9, "v": -0.00088},
      {"x": -26.6, "v": -0.00068}, {"x": -25.5, "v": -0.00015}, {"x": -24.6, "v": -0.00061}, {"x": -23.6, "v": -0.00121},
      {"x": -22.1, "v": -0.00171}, {"x": -21.0, "v": -0.00141}, {"x": -20.1, "v": -0.00088}, {"x": -19.5, "v": -0.00011},
      {"x": -18.4, "v": -0.00071}, {"x": -17.1, "v": -0.00068}, {"x": -16.3, "v": -0.00048}, {"x": -14.7, "v": -0.00088},
      {"x": -13.5, "v": -0.00055}, {"x": -12.4, "v": -0.00011}, {"x": -10.9, "v": -0.00075}, {"x": -9.2, "v": -0.00081},
      {"x": -7.9, "v": -0.00098}, {"x": -6.6, "v": -0.00101}, {"x": -5.1, "v": -0.00091}, {"x": -3.6, "v": -0.00062},
      {"x": -2.3, "v": -0.00052}, {"x": -1.4, "v": -0.00058}, {"x": -0.3, "v": -0.00047}, {"x": 1.0, "v": -0.00075},
      {"x": 2.1, "v": -0.00121}, {"x": 3.4, "v": -0.00011}, {"x": 4.7, "v": -0.00048}, {"x": 6.0, "v": -0.00045},
      {"x": 7.1, "v": -0.00008}, {"x": 8.2, "v": -0.00055}, {"x": 9.5, "v": -0.00061}, {"x": 10.8, "v": -0.00135},
      {"x": 12.1, "v": -0.00188}, {"x": 13.2, "v": -0.00161}, {"x": 14.3, "v": -0.00075}, {"x": 15.8, "v": -0.00061},
      {"x": 17.3, "v": -0.00048}, {"x": 18.4, "v": -0.00028}, {"x": 19.9, "v": -0.00031}, {"x": 21.0, "v": -0.00021},
      {"x": 23.0, "v": -0.00008}, {"x": 24.3, "v": -0.00058}, {"x": 25.1, "v": -0.00035}, {"x": 26.4, "v": -0.00008},
      {"x": 27.7, "v": -0.00028}, {"x": 29.3, "v": -0.00068}, {"x": 30.8, "v": -0.00015}, {"x": 32.3, "v": -0.00111},
      {"x": 33.0, "v": -0.00115}, {"x": 34.3, "v": -0.00061}, {"x": 35.1, "v": -0.00058}, {"x": 36.9, "v": -0.00048},
      {"x": 38.8, "v": -0.00101}, {"x": 40.1, "v": -0.00158}, {"x": 41.4, "v": -0.00088}, {"x": 42.5, "v": -0.00028},
      {"x": 44.3, "v": -0.00038}, {"x": 46.1, "v": -0.00028}, {"x": 47.3, "v": -0.00045}, {"x": 48.6, "v": -0.00025},
      {"x": 49.9, "v": -0.00008}, {"x": 51.0, "v": -0.00088}, {"x": 51.9, "v": -0.00095}, {"x": 53.0, "v": -0.00058}
    ],
    "p4hi1": [
      {"x": -65.7, "v": 0.00052}, {"x": -65.0, "v": 0.00057}, {"x": -64.1, "v": 0.00032}, {"x": -63.3, "v": 0.00042},
      {"x": -62.4, "v": 0.00045}, {"x": -62.0, "v": 0.00059}, {"x": -60.5, "v": 0.00019}, {"x": -59.9, "v": 0.00015},
      {"x": -58.2, "v": 0.00045}, {"x": -57.1, "v": 0.00042}, {"x": -56.0, "v": 0.00032}, {"x": -54.7, "v": 0.00059},
      {"x": -53.9, "v": 0.00042}, {"x": -53.0, "v": 0.00012}, {"x": -52.1, "v": 0.00025}, {"x": -51.5, "v": 0.00022},
      {"x": -50.6, "v": 0.00045}, {"x": -49.1, "v": 0.00079}, {"x": -48.3, "v": 0.00065}, {"x": -47.2, "v": 0.00025},
      {"x": -46.5, "v": 0.00005}, {"x": -45.5, "v": 0.00022}, {"x": -44.0, "v": 0.00072}, {"x": -43.4, "v": 0.00072},
      {"x": -42.5, "v": 0.00052}, {"x": -41.6, "v": 0.00042}, {"x": -40.1, "v": 0.00072}, {"x": -39.2, "v": 0.00065},
      {"x": -38.2, "v": 0.00049}, {"x": -37.1, "v": 0.00039}, {"x": -36.4, "v": 0.00027}, {"x": -35.4, "v": 0.00059},
      {"x": -34.3, "v": 0.00082}, {"x": -33.9, "v": 0.00079}, {"x": -32.8, "v": 0.00045}, {"x": -31.9, "v": 0.00015},
      {"x": -31.1, "v": 0.00022}, {"x": -30.2, "v": 0.00032}, {"x": -29.1, "v": 0.00031}, {"x": -27.6, "v": 0.00019},
      {"x": -26.4, "v": 0.00005}, {"x": -25.5, "v": 0.00020}, {"x": -25.1, "v": 0.00000}, {"x": -23.8, "v": 0.00059},
      {"x": -22.5, "v": 0.00095}, {"x": -21.6, "v": 0.00085}, {"x": -20.3, "v": 0.00045}, {"x": -19.6, "v": 0.00042},
      {"x": -18.8, "v": 0.00059}, {"x": -17.5, "v": 0.00042}, {"x": -16.9, "v": 0.00015}, {"x": -15.8, "v": 0.00022},
      {"x": -15.4, "v": 0.00022}, {"x": -13.9, "v": 0.00065}, {"x": -12.4, "v": 0.00042}, {"x": -12.0, "v": 0.00039},
      {"x": -10.7, "v": 0.00072}, {"x": -9.0, "v": 0.00099}, {"x": -7.7, "v": 0.00089}, {"x": -6.6, "v": 0.00092},
      {"x": -4.7, "v": 0.00095}, {"x": -3.6, "v": 0.00069}, {"x": -2.0, "v": 0.00039}, {"x": -1.0, "v": 0.00065},
      {"x": 0.3, "v": 0.00099}, {"x": 1.2, "v": 0.00095}, {"x": 2.1, "v": 0.00065}, {"x": 3.0, "v": 0.00065},
      {"x": 4.3, "v": 0.00052}, {"x": 5.3, "v": 0.00042}, {"x": 6.4, "v": 0.00012}, {"x": 7.1, "v": 0.00033},
      {"x": 8.6, "v": 0.00029}, {"x": 9.9, "v": 0.00020}, {"x": 11.4, "v": 0.00029}, {"x": 12.3, "v": 0.00022},
      {"x": 13.4, "v": 0.00079}, {"x": 14.5, "v": 0.00149}, {"x": 15.6, "v": 0.00142}, {"x": 16.9, "v": 0.00072},
      {"x": 18.2, "v": 0.00019}, {"x": 19.0, "v": 0.00012}, {"x": 19.9, "v": 0.00039}, {"x": 20.8, "v": 0.00042},
      {"x": 21.7, "v": 0.00009}, {"x": 22.5, "v": 0.00015}, {"x": 23.4, "v": 0.00015}, {"x": 24.9, "v": 0.00062},
      {"x": 25.8, "v": 0.00045}, {"x": 26.9, "v": 0.00005}, {"x": 28.2, "v": 0.00007}, {"x": 29.5, "v": 0.00015},
      {"x": 30.3, "v": 0.00019}, {"x": 31.0, "v": 0.00022}, {"x": 32.1, "v": 0.00059}, {"x": 33.6, "v": 0.00045},
      {"x": 34.7, "v": 0.00025}, {"x": 35.1, "v": 0.00002}, {"x": 36.4, "v": 0.00059}, {"x": 37.5, "v": 0.00105},
      {"x": 38.6, "v": 0.00099}, {"x": 39.9, "v": 0.00042}, {"x": 41.2, "v": 0.00022}, {"x": 42.1, "v": 0.00013},
      {"x": 43.6, "v": 0.00025}, {"x": 45.6, "v": 0.00062}, {"x": 47.1, "v": 0.00075}, {"x": 48.6, "v": 0.00052},
      {"x": 49.7, "v": 0.00025}, {"x": 51.0, "v": 0.00022}, {"x": 51.9, "v": 0.00055}, {"x": 53.0, "v": 0.00075}
    ],
    "p4lo1": [
      {"x": -65.7, "v": -0.00068}, {"x": -64.8, "v": -0.00041}, {"x": -64.1, "v": -0.00018}, {"x": -63.1, "v": -0.00038},
      {"x": -62.4, "v": -0.00041}, {"x": -61.6, "v": -0.00055}, {"x": -60.5, "v": -0.00065}, {"x": -59.2, "v": -0.00055},
      {"x": -58.2, "v": -0.00041}, {"x": -57.1, "v": -0.00021}, {"x": -56.2, "v": -0.00025}, {"x": -54.7, "v": -0.00008},
      {"x": -53.9, "v": -0.00031}, {"x": -53.0, "v": -0.00051}, {"x": -52.1, "v": -0.00038}, {"x": -51.1, "v": -0.00021},
      {"x": -50.0, "v": -0.00035}, {"x": -48.9, "v": -0.00021}, {"x": -48.5, "v": -0.00008}, {"x": -47.2, "v": -0.00041},
      {"x": -46.1, "v": -0.00075}, {"x": -45.0, "v": -0.00091}, {"x": -44.0, "v": -0.00068}, {"x": -42.7, "v": -0.00045},
      {"x": -41.6, "v": -0.00061}, {"x": -40.5, "v": -0.00055}, {"x": -39.2, "v": -0.00035}, {"x": -37.7, "v": -0.00068},
      {"x": -36.7, "v": -0.00091}, {"x": -35.8, "v": -0.00075}, {"x": -35.2, "v": -0.00015}, {"x": -34.5, "v": -0.00025},
      {"x": -33.4, "v": -0.00005}, {"x": -32.2, "v": -0.00015}, {"x": -31.1, "v": -0.00031}, {"x": -29.8, "v": -0.00041},
      {"x": -28.9, "v": -0.00055}, {"x": -27.6, "v": -0.00055}, {"x": -26.3, "v": -0.00038}, {"x": -25.5, "v": -0.00015},
      {"x": -24.8, "v": -0.00035}, {"x": -23.8, "v": -0.00081}, {"x": -22.3, "v": -0.00121}, {"x": -21.2, "v": -0.00108},
      {"x": -20.3, "v": -0.00068}, {"x": -19.5, "v": -0.00008}, {"x": -18.4, "v": -0.00058}, {"x": -17.3, "v": -0.00055},
      {"x": -16.5, "v": -0.00031}, {"x": -14.9, "v": -0.00058}, {"x": -13.7, "v": -0.00055}, {"x": -12.4, "v": -0.00008},
      {"x": -10.9, "v": -0.00068}, {"x": -9.2, "v": -0.00075}, {"x": -7.9, "v": -0.00095}, {"x": -6.6, "v": -0.00098},
      {"x": -5.1, "v": -0.00091}, {"x": -3.6, "v": -0.00058}, {"x": -2.5, "v": -0.00035}, {"x": -1.0, "v": -0.00041},
      {"x": 0.1, "v": -0.00041}, {"x": 1.2, "v": -0.00071}, {"x": 2.1, "v": -0.00095}, {"x": 3.6, "v": -0.00008},
      {"x": 4.7, "v": -0.00041}, {"x": 5.6, "v": -0.00045}, {"x": 7.1, "v": -0.00005}, {"x": 8.2, "v": -0.00048},
      {"x": 9.3, "v": -0.00055}, {"x": 10.8, "v": -0.00091}, {"x": 12.1, "v": -0.00108}, {"x": 13.2, "v": -0.00111},
      {"x": 14.3, "v": -0.00068}, {"x": 15.8, "v": -0.00055}, {"x": 17.3, "v": -0.00041}, {"x": 18.4, "v": -0.00021},
      {"x": 19.9, "v": -0.00025}, {"x": 21.0, "v": -0.00015}, {"x": 23.0, "v": -0.00001}, {"x": 24.3, "v": -0.00041},
      {"x": 25.1, "v": -0.00028}, {"x": 26.4, "v": -0.00003}, {"x": 28.0, "v": -0.00021}, {"x": 29.3, "v": -0.00040},
      {"x": 30.8, "v": -0.00008}, {"x": 32.3, "v": -0.00071}, {"x": 33.6, "v": -0.00065}, {"x": 34.5, "v": -0.00025},
      {"x": 35.6, "v": -0.00035}, {"x": 36.9, "v": -0.00028}, {"x": 38.8, "v": -0.00061}, {"x": 40.3, "v": -0.00098},
      {"x": 41.4, "v": -0.00065}, {"x": 42.5, "v": -0.00018}, {"x": 44.3, "v": -0.00028}, {"x": 45.6, "v": -0.00021},
      {"x": 46.7, "v": -0.00036}, {"x": 48.6, "v": -0.00015}, {"x": 49.9, "v": -0.00005}, {"x": 51.2, "v": -0.00061},
      {"x": 52.3, "v": -0.00055}, {"x": 53.0, "v": -0.00051}
    ],
    "p4med": [{"x": -65.7, "v": 0}, {"x": 53.0, "v": 0}]
  },
  "vconcat": [
    {
      "width": 1067, "height": 234,
      "layer": [
        {
          "data": {"name": "rv"},
          "mark": {"type": "rule", "color": "#2ca02c", "opacity": 0.6, "strokeWidth": 2, "clip": true},
          "encoding": {
            "x": {"field": "t", "type": "temporal", "title": "Date",
              "scale": {"type": "utc", "domain": [
                {"year": 2021, "month": 3, "date": 4, "hours": 14, "minutes": 13, "seconds": 1, "milliseconds": 500, "utc": true},
                {"year": 2021, "month": 3, "date": 4, "hours": 14, "minutes": 25, "seconds": 22, "milliseconds": 700, "utc": true}]},
              "axis": {"format": "%d %H:%M", "values": [
                {"year": 2021, "month": 3, "date": 4, "hours": 14, "minutes": 15, "utc": true},
                {"year": 2021, "month": 3, "date": 4, "hours": 14, "minutes": 20, "utc": true},
                {"year": 2021, "month": 3, "date": 4, "hours": 14, "minutes": 25, "utc": true}]}},
            "y": {"field": "lo", "type": "quantitative", "title": "Velocity [m/s]",
              "scale": {"domain": [-6071.1, -6018.3], "nice": false, "zero": false},
              "axis": {"values": [-6070, -6060, -6050, -6040, -6030, -6020], "format": "d"}},
            "y2": {"field": "hi"}
          }
        },
        {
          "data": {"name": "rv"},
          "mark": {"type": "point", "filled": true, "size": 60, "opacity": 0.8, "clip": true},
          "encoding": {
            "x": {"field": "t", "type": "temporal"},
            "y": {"field": "v", "type": "quantitative"},
            "color": {"datum": "Good", "type": "nominal", "scale": {"range": ["#2ca02c"]},
              "legend": {"title": null, "orient": "top-right", "offset": 7, "symbolSize": 256,
                "symbolType": "M0,-0.33A0.33,0.33 0 1,1 0,0.33A0.33,0.33 0 1,1 0,-0.33Z",
                "symbolOpacity": 0.6, "symbolOffset": 5.5, "labelOffset": 16, "padding": 5}}
          }
        }
      ]
    },
    {
      "width": 1067, "height": 235,
      "data": {"name": "ccf"},
      "encoding": {
        "x": {"field": "x", "type": "quantitative", "title": "RV [km/s]",
          "scale": {"domain": [-71.6, 58.9], "nice": false, "zero": false},
          "axis": {"values": [-60, -40, -20, 0, 20, 40], "format": "d"}}
      },
      "layer": [
        {
          "mark": {"type": "area", "color": "#ff8c40", "opacity": 0.8, "interpolate": "monotone"},
          "encoding": {
            "y": {"field": "lo", "type": "quantitative", "title": "Normalized CCF",
              "scale": {"domain": [0.8951, 1.0092], "nice": false, "zero": false},
              "axis": {"values": [0.90, 0.92, 0.94, 0.96, 0.98, 1.00], "format": ".2f"}},
            "y2": {"field": "hi"}
          }
        },
        {
          "mark": {"type": "line", "color": "#000000", "strokeWidth": 2.2, "interpolate": "monotone"},
          "encoding": {"y": {"field": "ccf", "type": "quantitative"}}
        },
        {
          "mark": {"type": "line", "strokeWidth": 2, "strokeDash": [7, 3], "opacity": 0.85, "interpolate": "monotone"},
          "encoding": {
            "y": {"field": "gauss", "type": "quantitative"},
            "color": {"datum": "Gaussian fit", "type": "nominal", "scale": {"range": ["#1f77b4"]},
              "legend": {"title": null, "orient": "bottom-left", "offset": 7, "symbolSize": 256, "symbolType": "M-1.7,0H1.7",
                "symbolDash": [7, 3], "symbolStrokeWidth": 2, "symbolOffset": 5.6, "labelOffset": 13, "padding": 5}}
          }
        }
      ]
    },
    {
      "width": 1067, "height": 235,
      "encoding": {
        "x": {"field": "x", "type": "quantitative", "title": "RV [km/s]",
          "scale": {"domain": [-71.6, 58.9], "nice": false, "zero": false},
          "axis": {"values": [-60, -40, -20, 0, 20, 40], "format": "d"}}
      },
      "layer": [
        {
          "data": {"name": "p3band"},
          "mark": {"type": "area", "fill": "#ffa500", "fillOpacity": 0.45, "stroke": "#ffa500", "strokeOpacity": 0.45, "strokeWidth": 1, "interpolate": "monotone"},
          "encoding": {
            "y": {"field": "lo2", "type": "quantitative", "title": "Residuals [to fit]",
              "scale": {"domain": [-0.00287, 0.00464], "nice": false, "zero": false},
              "axis": {"values": [-0.002, -0.001, 0, 0.001, 0.002, 0.003, 0.004], "format": ".3f"}},
            "y2": {"field": "hi2"}
          }
        },
        {
          "data": {"name": "p3band"},
          "mark": {"type": "area", "fill": "#ff0000", "fillOpacity": 0.4, "stroke": "#ff0000", "strokeOpacity": 0.4, "strokeWidth": 1, "interpolate": "monotone"},
          "encoding": {
            "y": {"field": "lo1", "type": "quantitative"},
            "y2": {"field": "hi1"}
          }
        },
        {
          "data": {"name": "p3med"},
          "mark": {"type": "line", "color": "#1f77b4", "strokeWidth": 2, "opacity": 0.85},
          "encoding": {
            "y": {"field": "v", "type": "quantitative"}
          }
        },
        {
          "data": {"name": "leg"},
          "transform": [{"filter": "false"}],
          "mark": {"type": "point", "opacity": 1, "strokeWidth": 1},
          "encoding": {
            "fill": {"field": "k", "type": "nominal",
              "scale": {"domain": ["2-σ", "1-σ", "Median residual"], "range": ["#ffd68c", "#ff9999", "#3a80ba"]},
              "legend": {"title": null, "orient": "top-right", "offset": 7, "direction": "horizontal", "symbolSize": 256, "symbolOffset": 5.6, "labelOffset": 16, "columnPadding": 29, "padding": 5, "symbolStrokeWidth": 1}},
            "stroke": {"field": "k", "type": "nominal",
              "scale": {"domain": ["2-σ", "1-σ", "Median residual"], "range": ["#ffc45a", "#ff6b6b", "#3a80ba"]},
              "legend": {"title": null, "orient": "top-right", "offset": 7, "direction": "horizontal", "symbolSize": 256, "symbolOffset": 5.6, "labelOffset": 16, "columnPadding": 29, "padding": 5, "symbolStrokeWidth": 1}},
            "shape": {"field": "k", "type": "nominal",
              "scale": {"domain": ["2-σ", "1-σ", "Median residual"], "range": ["M-1.7,-0.68H1.7V0.68H-1.7Z", "M-1.7,-0.68H1.7V0.68H-1.7Z", "M-1.7,-0.06H1.7V0.06H-1.7Z"]},
              "legend": {"title": null, "orient": "top-right", "offset": 7, "direction": "horizontal", "symbolSize": 256, "symbolOffset": 5.6, "labelOffset": 16, "columnPadding": 29, "padding": 5, "symbolStrokeWidth": 1}}
          }
        }
      ]
    },
    {
      "width": 1067, "height": 235,
      "encoding": {
        "x": {"field": "x", "type": "quantitative", "title": "RV [km/s]",
          "scale": {"domain": [-71.6, 58.9], "nice": false, "zero": false},
          "axis": {"values": [-60, -40, -20, 0, 20, 40], "format": "d"}}
      },
      "layer": [
        {
          "data": {"name": "p4hi2"},
          "mark": {"type": "area", "fill": "#ffa500", "fillOpacity": 0.45, "stroke": "#ffa500", "strokeOpacity": 0.45, "strokeWidth": 1, "interpolate": "monotone"},
          "encoding": {
            "y": {"field": "v", "type": "quantitative", "title": "Residuals [To Median]",
              "scale": {"domain": [-0.00208, 0.00261], "nice": false, "zero": false},
              "axis": {"values": [-0.002, -0.001, 0, 0.001, 0.002], "format": ".3f"}},
            "y2": {"datum": 0}
          }
        },
        {
          "data": {"name": "p4lo2"},
          "mark": {"type": "area", "fill": "#ffa500", "fillOpacity": 0.45, "stroke": "#ffa500", "strokeOpacity": 0.45, "strokeWidth": 1, "interpolate": "monotone"},
          "encoding": {
            "y": {"field": "v", "type": "quantitative"},
            "y2": {"datum": 0}
          }
        },
        {
          "data": {"name": "p4hi1"},
          "mark": {"type": "area", "fill": "#ff0000", "fillOpacity": 0.4, "stroke": "#ff0000", "strokeOpacity": 0.4, "strokeWidth": 1, "interpolate": "monotone"},
          "encoding": {
            "y": {"field": "v", "type": "quantitative"},
            "y2": {"datum": 0}
          }
        },
        {
          "data": {"name": "p4lo1"},
          "mark": {"type": "area", "fill": "#ff0000", "fillOpacity": 0.4, "stroke": "#ff0000", "strokeOpacity": 0.4, "strokeWidth": 1, "interpolate": "monotone"},
          "encoding": {
            "y": {"field": "v", "type": "quantitative"},
            "y2": {"datum": 0}
          }
        },
        {
          "data": {"name": "p4med"},
          "mark": {"type": "line", "color": "#1f77b4", "strokeWidth": 2, "opacity": 0.85},
          "encoding": {
            "y": {"field": "v", "type": "quantitative"}
          }
        },
        {
          "data": {"name": "leg"},
          "transform": [{"filter": "false"}],
          "mark": {"type": "point", "opacity": 1, "strokeWidth": 1},
          "encoding": {
            "fill": {"field": "k", "type": "nominal",
              "scale": {"domain": ["2-σ", "1-σ", "Median residual"], "range": ["#ffd68c", "#ff9999", "#3a80ba"]},
              "legend": {"title": null, "orient": "top-right", "offset": 7, "direction": "horizontal", "symbolSize": 256, "symbolOffset": 5.6, "labelOffset": 16, "columnPadding": 29, "padding": 5, "symbolStrokeWidth": 1}},
            "stroke": {"field": "k", "type": "nominal",
              "scale": {"domain": ["2-σ", "1-σ", "Median residual"], "range": ["#ffc45a", "#ff6b6b", "#3a80ba"]},
              "legend": {"title": null, "orient": "top-right", "offset": 7, "direction": "horizontal", "symbolSize": 256, "symbolOffset": 5.6, "labelOffset": 16, "columnPadding": 29, "padding": 5, "symbolStrokeWidth": 1}},
            "shape": {"field": "k", "type": "nominal",
              "scale": {"domain": ["2-σ", "1-σ", "Median residual"], "range": ["M-1.7,-0.68H1.7V0.68H-1.7Z", "M-1.7,-0.68H1.7V0.68H-1.7Z", "M-1.7,-0.06H1.7V0.06H-1.7Z"]},
              "legend": {"title": null, "orient": "top-right", "offset": 7, "direction": "horizontal", "symbolSize": 256, "symbolOffset": 5.6, "labelOffset": 16, "columnPadding": 29, "padding": 5, "symbolStrokeWidth": 1}}
          }
        }
      ]
    }
  ],
  "config": {
    "font": "DejaVu Sans",
    "view": {"fill": "#fcfbe3", "stroke": "#000000", "strokeWidth": 1},
    "axis": {
      "domainColor": "#000000", "domainWidth": 1, "tickColor": "#000000", "tickSize": 5, "tickWidth": 1,
      "labelFont": "DejaVu Sans", "labelFontSize": 13.9, "labelColor": "#000000",
      "labelFlush": false, "labelOverlap": false,
      "titleFont": "DejaVu Sans", "titleFontSize": 13.9, "titleFontWeight": "normal", "titleColor": "#000000",
      "grid": true, "gridColor": "#b0b0b0", "gridDash": [4, 2], "gridOpacity": 0.6, "gridWidth": 1
    },
    "axisX": {"labelPadding": 5, "titlePadding": 7},
    "axisY": {"labelPadding": 3, "titlePadding": 9},
    "legend": {
      "labelFont": "DejaVu Sans", "labelFontSize": 13.9, "labelColor": "#000000",
      "fillColor": "rgba(255,255,255,0.8)", "strokeColor": "#cccccc", "cornerRadius": 3
    }
  }
}
